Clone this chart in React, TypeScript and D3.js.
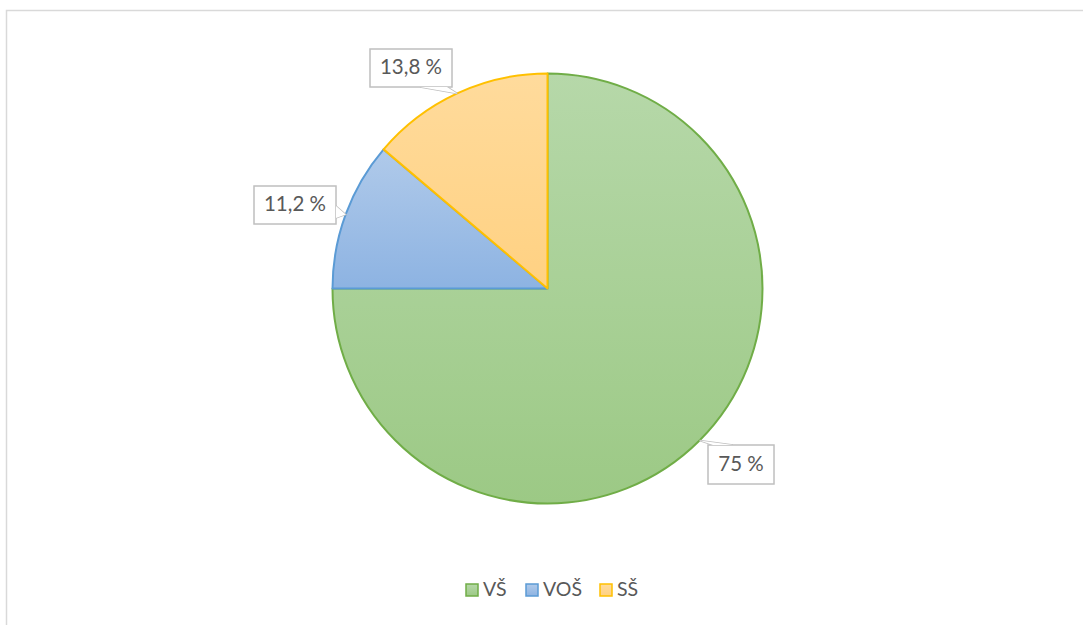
import React from "react";
import * as d3 from "d3";

// ---- data ----
const categories = ["VŠ", "VOŠ", "SŠ"];
const values = [75, 11.2, 13.8];
const valueLabels = ["75 %", "11,2 %", "13,8 %"];

// ---- styles / layout ----
const W = 1083;
const H = 625;
const cx = 547.5;
const cy = 288.5;
const R = 215;
const strokes = ["#70ad47", "#5b9bd5", "#ffc000"];
const gradTop = ["#b6d8a9", "#b0caea", "#ffdb9c"];
const gradBottom = ["#9cc985", "#8db3e2", "#ffd182"];
const labelLayout: Array<{ x: number; y: number; w: number; h: number; edge: string; b0: number; b1: number }> = [
  { x: 708, y: 445, w: 66, h: 39, edge: "top", b0: 713, b1: 733 },
  { x: 254, y: 186, w: 82, h: 38, edge: "right", b0: 206, b1: 218 },
  { x: 370, y: 49, w: 82, h: 38, edge: "bottom", b0: 420, b1: 447 },
];
const legendX = [466, 526, 600];
const legendY = 590;

export default function App() {
  const pie = d3
    .pie<number>()
    .value((d) => d)
    .sort(null)
    .startAngle(0)
    .endAngle(2 * Math.PI);
  const arcs = pie(values);
  const arc = d3.arc<d3.PieArcDatum<number>>().innerRadius(0).outerRadius(R);
  const font = "Lato, 'Open Sans', sans-serif";

  return (
    <svg
      width={W}
      height={H}
      style={{ position: "absolute", left: 0, top: 0, background: "#fff" }}
      fontFamily={font}
    >
      <defs>
        {categories.map((c, i) => (
          <linearGradient key={c} id={`g${i}`} x1="0" y1="0" x2="0" y2="1">
            <stop offset="0" stopColor={gradTop[i]} />
            <stop offset="1" stopColor={gradBottom[i]} />
          </linearGradient>
        ))}
      </defs>
      <rect x={6.5} y={10.5} width={1200} height={800} fill="#fff" stroke="#d9d9d9" strokeWidth={1.5} />
      <g transform={`translate(${cx},${cy})`}>
        {arcs.map((a, i) => (
          <path
            key={categories[i]}
            d={arc(a) || ""}
            fill={`url(#g${i})`}
            stroke={strokes[i]}
            strokeWidth={2}
            strokeLinejoin="round"
          />
        ))}
      </g>
      {arcs.map((a, i) => {
        const mid = (a.startAngle + a.endAngle) / 2;
        const tx = cx + R * Math.sin(mid);
        const ty = cy - R * Math.cos(mid);
        const L = labelLayout[i];
        let p0: [number, number];
        let p1: [number, number];
        if (L.edge === "top") {
          p0 = [L.b0, L.y];
          p1 = [L.b1, L.y];
        } else if (L.edge === "bottom") {
          p0 = [L.b0, L.y + L.h];
          p1 = [L.b1, L.y + L.h];
        } else if (L.edge === "right") {
          p0 = [L.x + L.w, L.b0];
          p1 = [L.x + L.w, L.b1];
        } else {
          p0 = [L.x, L.b0];
          p1 = [L.x, L.b1];
        }
        const tri = `M${p0[0]},${p0[1]}L${tx},${ty}L${p1[0]},${p1[1]}Z`;
        return (
          <g key={`l${i}`}>
            <path d={tri} fill="#fff" stroke="#bfbfbf" strokeWidth={1.5} />
            <rect x={L.x} y={L.y} width={L.w} height={L.h} fill="#fff" stroke="#bfbfbf" strokeWidth={1.5} />
            <path d={tri} fill="#fff" stroke="none" />
            <text
              x={L.x + L.w / 2}
              y={L.y + L.h / 2 + 1}
              textAnchor="middle"
              dominantBaseline="middle"
              fontSize={20.5}
              fill="#595959"
            >
              {valueLabels[i]}
            </text>
          </g>
        );
      })}
      {categories.map((c, i) => (
        <g key={`leg${c}`}>
          <rect
            x={legendX[i]}
            y={legendY - 6}
            width={12}
            height={12}
            fill={`url(#g${i})`}
            stroke={strokes[i]}
            strokeWidth={1.5}
          />
          <text
            x={legendX[i] + 17}
            y={legendY + 1}
            dominantBaseline="middle"
            fontSize={19.5}
            fill="#595959"
          >
            {c}
          </text>
        </g>
      ))}
    </svg>
  );
}
